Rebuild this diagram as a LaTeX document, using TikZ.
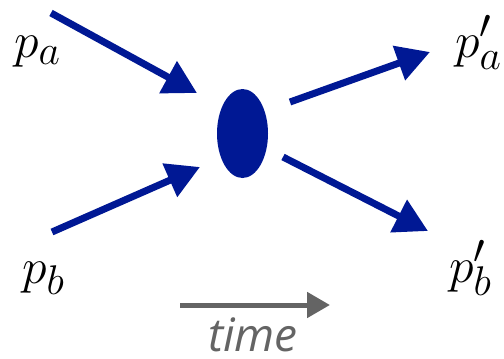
\documentclass[tikz,border=0pt]{standalone}
\usepackage{graphicx}
\usepackage{fontspec}
\usetikzlibrary{arrows.meta,shapes.geometric}
\newfontfamily\timefont{Open Sans}
\definecolor{particle}{RGB}{0,24,148}
\definecolor{timegray}{RGB}{100,100,100}
\newcommand\biglabel[1]{\scalebox{2}{\fontsize{24.88}{26}\selectfont$#1$}}
\begin{document}
\begin{tikzpicture}[x=1pt,y=-1pt,
  momentum/.style={particle,line width=7pt,
    -{Triangle[length=33pt,width=35pt]}},
  timearrow/.style={timegray,line width=5pt,
    -{Triangle[length=23pt,width=25pt]}},
  plabel/.style={inner sep=0pt,anchor=base west}]
\useasboundingbox (0,0) rectangle (504,359);

% interaction vertex
\node[ellipse,fill=particle,minimum width=51pt,minimum height=89pt,inner sep=0pt]
  (blob) at (242.5,133.5) {};

% incoming and outgoing momenta
\coordinate (ina)  at (51,13);
\coordinate (tipa) at (197,93);
\coordinate (inb)  at (52,232);
\coordinate (tipb) at (200,167);
\coordinate (outa) at (290,102);
\coordinate (tipc) at (430,52);
\coordinate (outb) at (283,157);
\coordinate (tipd) at (428,231);

\draw[momentum] (ina) -- (tipa);
\draw[momentum] (inb) -- (tipb);
\draw[momentum] (outa) -- (tipc);
\draw[momentum] (outb) -- (tipd);

% labels
\node[plabel] (pa)  at (14,57)  {\biglabel{p_a}};
\node[plabel] (pb)  at (22,283) {\biglabel{p_b}};
\node[plabel] (pap) at (455,57) {\biglabel{p'_a}};
\node[plabel] (pbp) at (449,282) {\biglabel{p'_b}};

% time axis
\coordinate (t0) at (180,305);
\coordinate (t1) at (330,305);
\draw[timearrow] (t0) -- (t1);
\node[inner sep=0pt,anchor=base,text=timegray,
  font=\timefont\itshape\fontsize{46}{46}\selectfont] (time) at (253,351) {time};
\end{tikzpicture}
\end{document}
